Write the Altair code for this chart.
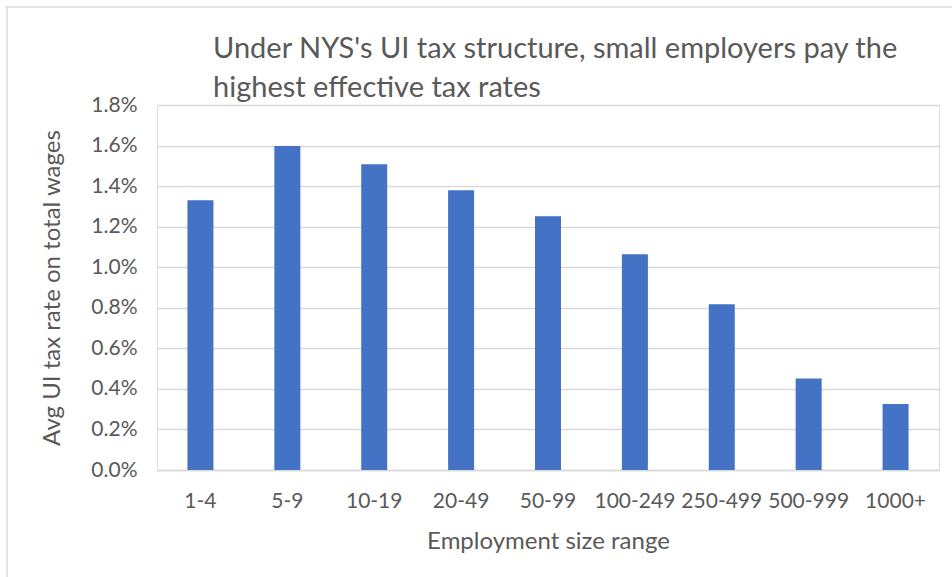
import altair as alt
import pandas as pd

categories = ["1-4", "5-9", "10-19", "20-49", "50-99", "100-249", "250-499", "500-999", "1000+"]
rates = [0.01330, 0.01598, 0.01508, 0.01379, 0.01251, 0.01064, 0.00817, 0.00451, 0.00325]
y_ticks = [0.0, 0.002, 0.004, 0.006, 0.008, 0.010, 0.012, 0.014, 0.016, 0.018]
title_lines = ["Under NYS's UI tax structure, small employers pay the",
               "highest effective tax rates"]

df = pd.DataFrame({"size": categories, "rate": rates})

FONT = "Lato"
TXT = "#595959"
GRID = "#d9d9d9"

bars = alt.Chart(df).mark_bar(size=26, color="#4472C4").encode(
    x=alt.X("size:N", sort=categories,
            axis=alt.Axis(title="Employment size range", labelAngle=0, ticks=False,
                          domainColor=GRID, domainWidth=1.5, labelPadding=20,
                          titlePadding=18, labelFontSize=21, titleFontSize=24,
                          labelColor=TXT, titleColor=TXT, labelFont=FONT, titleFont=FONT,
                          titleFontWeight="normal")),
    y=alt.Y("rate:Q", scale=alt.Scale(domain=[0, 0.018], nice=False),
            axis=alt.Axis(title="Avg UI tax rate on total wages", format=".1%",
                          values=y_ticks, ticks=False, domain=False,
                          gridColor=GRID, gridWidth=1.5, labelPadding=20, titlePadding=26,
                          labelFontSize=21, titleFontSize=24, labelColor=TXT, titleColor=TXT,
                          labelFont=FONT, titleFont=FONT, titleFontWeight="normal")),
)

tdf = pd.DataFrame({"line": title_lines, "idx": [0, 1]})
title1 = alt.Chart(tdf).transform_filter("datum.idx == 0").mark_text(
    align="left", baseline="alphabetic", font=FONT, fontSize=29, color=TXT).encode(
    text="line:N", x=alt.value(56), y=alt.value(-47))
title2 = alt.Chart(tdf).transform_filter("datum.idx == 1").mark_text(
    align="left", baseline="alphabetic", font=FONT, fontSize=29, color=TXT).encode(
    text="line:N", x=alt.value(56), y=alt.value(-8))

top_border = alt.Chart(df).mark_rule(color="#e3e3e3", strokeWidth=2).encode(
    x=alt.value(-152), x2=alt.value(800), y=alt.value(-98))
left_border = alt.Chart(df).mark_rule(color="#e3e3e3", strokeWidth=2).encode(
    x=alt.value(-150), y=alt.value(-98), y2=alt.value(480))

chart = alt.layer(bars, title1, title2, top_border, left_border).properties(
    width=782, height=365,
    autosize=alt.AutoSizeParams(type="none"),
    padding={"left": 157, "top": 105, "right": 13, "bottom": 107},
).configure_view(stroke=None).configure(background="white")

chart.save("out.html", embed_options={"renderer": "svg", "actions": False})
